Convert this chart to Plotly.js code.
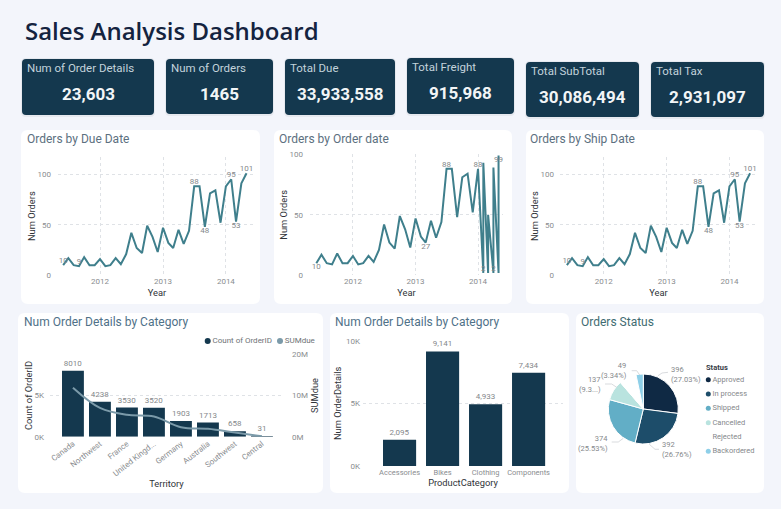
<!DOCTYPE html>
<html><head><meta charset="utf-8"><script src="https://cdn.plot.ly/plotly-3.0.1.min.js"></script>
<style>html,body{margin:0;padding:0;background:#f3f5fb}</style></head>
<body><div id="chart" style="width:781px;height:509px"></div>
<script>
const months=[];
for(let y=2011,m=6;!(y===2014&&m===6);m++){if(m>12){m=1;y++}if(y===2014&&m===6)break;months.push(y+'-'+String(m).padStart(2,'0')+'-01')}
const dueOrders=[10,17,10,9,18,10,10,16,9,10,17,11,21,42,27,22,49,38,23,47,32,27,45,31,44,88,88,48,81,84,52,88,95,53,91,101];
const shipOrders=[10,17,10,9,18,10,10,16,9,10,17,11,21,42,27,22,49,38,23,47,32,27,45,31,44,88,88,48,81,84,52,88,95,53,91,101];
const orderDates=months.slice(0,32).concat(['2014-02-01','2014-02-01','2014-03-01','2014-03-01','2014-04-01','2014-04-01','2014-05-01','2014-05-01']);
const orderOrders=[10,17,10,9,18,10,10,16,9,10,16,11,21,42,27,22,49,38,23,47,32,27,45,31,44,88,88,48,81,84,52,88,2,93,2,50,2,89,2,99];
const dueLabels={0:['10','top center'],3:['9','top center'],25:['88','top center'],27:['48','bottom center'],32:['95','top center'],33:['53','bottom center'],35:['101','top center']};
const orderLabels={0:['10','bottom center'],21:['27','bottom center'],25:['88','top center'],31:['88','top center'],32:['2','top center'],36:['2','top center'],39:['99','bottom center']};
const territories=['Canada','Northwest','France','United Kingd...','Germany','Australia','Southwest','Central'];
const territoryCount=[8010,4238,3530,3520,1903,1713,658,31];
const territoryDue=[11.9e6,7e6,5.3e6,4.9e6,2.3e6,1.9e6,1e6,0.1e6];
const productCats=['Accessories','Bikes','Clothing','Components'];
const productCount=[2095,9141,4933,7434];
const statuses=['Approved','In process','Shipped','Cancelled','Rejected','Backordered'];
const statusCount=[396,392,374,137,117,49];
const statusText=['396<br>(27.03%)','392<br>(26.76%)','374<br>(25.53%)','137<br>(9.3...)','','49<br>(3.34%)'];
const statusColors=['#0f2944','#1d4d6a','#62aec6','#b9e3df','#ffffff','#8ecfe8'];
const kpiNames=['Num of Order Details','Num of Orders','Total Due','Total Freight','Total SubTotal','Total Tax'];
const kpiValues=['23,603','1465','33,933,558','915,968','30,086,494','2,931,097'];
const kpiBoxes=[[22,59,154,115],[166,59,273,114],[285,59,395,115],[407,58,514,114],[526,62,639,117],[651,62,764,117]];
const panels=[[21,130,260,304],[274,130,512,304],[526,130,764,304],[18,313,323,493],[330,313,569,493],[576,313,764,493]];
const panelTitles=['Orders by Due Date','Orders by Order date','Orders by Ship Date','Num Order Details by Category','Num Order Details by Category','Orders Status'];
const titleXY=[[25,139],[277,139],[528,139],[22,322],[333,322],[579,322]];
const titleColors=['#5c7080','#5c7080','#5c7080','#4f7188','#4f7188','#3f6c72'];
const pieLabelPos=[[669,374,'left'],[660,449,'left'],[609.5,443,'right'],[603,384,'right'],null,[629,370,'right']];
const pieLeaders=[[[658,375.7],[662,373],[668,372.3]],[[649.3,444.3],[655,449.3],[659,449.3]],[[623.3,438.3],[618.3,442],[611.7,442]],[[616.7,387.3],[611.7,384],[605,384]],[[639.7,375],[636.7,370.7],[631.7,370.7]]];

const W=781,H=509,FONT='Roboto, sans-serif';
const X=x=>x/W,Y=y=>1-y/H;
const rr=(b,r)=>{const[a,t,c,d]=b;return `M${X(a+r)},${Y(t)}L${X(c-r)},${Y(t)}Q${X(c)},${Y(t)} ${X(c)},${Y(t+r)}L${X(c)},${Y(d-r)}Q${X(c)},${Y(d)} ${X(c-r)},${Y(d)}L${X(a+r)},${Y(d)}Q${X(a)},${Y(d)} ${X(a)},${Y(d-r)}L${X(a)},${Y(t+r)}Q${X(a)},${Y(t)} ${X(a+r)},${Y(t)}Z`};
const shapes=[],annotations=[];
panels.forEach(b=>shapes.push({type:'path',xref:'paper',yref:'paper',path:rr(b,7),fillcolor:'#ffffff',line:{width:0},layer:'below'}));
kpiBoxes.forEach((b,i)=>{
  shapes.push({type:'path',xref:'paper',yref:'paper',path:rr([b[0]-1,b[1]-1,b[2]+1,b[3]+2],5),fillcolor:'#e6e9ef',line:{width:0},layer:'below'});
  shapes.push({type:'path',xref:'paper',yref:'paper',path:rr(b,4),fillcolor:'#14384e',line:{width:0},layer:'below'});
  annotations.push({xref:'paper',yref:'paper',x:X(b[0]+3),y:Y(b[1]+9),xanchor:'left',yanchor:'middle',showarrow:false,text:kpiNames[i],font:{family:FONT,size:11.5,color:'#c3d3dc'}});
  annotations.push({xref:'paper',yref:'paper',x:X((b[0]+b[2])/2),y:Y(b[1]+35),xanchor:'center',yanchor:'middle',showarrow:false,text:'<b>'+kpiValues[i]+'</b>',font:{family:FONT,size:17,color:'#f2f5f7'}});
});
panelTitles.forEach((t,i)=>annotations.push({xref:'paper',yref:'paper',x:X(titleXY[i][0]),y:Y(titleXY[i][1]),xanchor:'left',yanchor:'middle',showarrow:false,text:t,font:{family:FONT,size:12,color:titleColors[i]}}));
statusText.forEach((t,i)=>{const p=pieLabelPos[i];if(p)annotations.push({xref:'paper',yref:'paper',x:X(p[0]),y:Y(p[1]),xanchor:p[2],yanchor:'middle',align:p[2],showarrow:false,text:t,font:{family:FONT,size:7.5,color:'#85888b'}})});
pieLeaders.forEach(l=>shapes.push({type:'path',xref:'paper',yref:'paper',path:l.map((q,i)=>(i?'L':'M')+X(q[0])+','+Y(q[1])).join(''),line:{color:'#cfd2d5',width:0.8}}));

const GRID='#dfe2e6',TICK='#8a8d90',AT='#2f3338',LINE='#3f7f8c',TS=9.3;
const labelsFor=(n,map)=>({text:Array.from({length:n},(_,i)=>map[i]?map[i][0]:''),textposition:Array.from({length:n},(_,i)=>map[i]?map[i][1]:'top center')});
const lineTrace=(x,y,map,xa,ya)=>{const l=labelsFor(y.length,map);return{type:'scatter',mode:'lines+text',x,y,xaxis:xa,yaxis:ya,text:l.text,textposition:l.textposition,textfont:{family:FONT,size:8,color:'#85888b'},cliponaxis:false,showlegend:false,line:{color:LINE,width:2,shape:'linear'},hoverinfo:'x+y'}};
const xDate=(d,r,dom)=>({type:'date',domain:[X(d[0]),X(d[1])],range:r,anchor:dom,tickformat:'%Y',dtick:'M12',tick0:'2012-01-01',ticks:'',showgrid:true,gridcolor:GRID,griddash:'dot',gridwidth:1,zeroline:false,showline:false,tickfont:{family:FONT,size:8,color:TICK},title:{text:'Year',font:{family:FONT,size:TS,color:AT},standoff:4},automargin:false});
const yLin=(d,r,dom,t,vals,so,tso)=>({domain:[Y(d[1]),Y(d[0])],range:r,anchor:dom,tickvals:vals,showgrid:true,gridcolor:GRID,griddash:'dot',gridwidth:1,zeroline:false,showline:false,ticks:'',ticklabelstandoff:tso,tickfont:{family:FONT,size:8,color:TICK},title:{text:t,font:{family:FONT,size:TS,color:AT},standoff:so},automargin:false});

const data=[
 lineTrace(months,dueOrders,dueLabels,'x','y'),
 lineTrace(orderDates,orderOrders,orderLabels,'x2','y2'),
 lineTrace(months,shipOrders,dueLabels,'x3','y3'),
 {type:'bar',name:'Count of OrderID',x:territories,y:territoryCount,width:0.81,xaxis:'x4',yaxis:'y4',marker:{color:'#14384e'},text:territoryCount.map(String),textposition:'outside',textfont:{family:FONT,size:8,color:'#85888b'},cliponaxis:false,showlegend:false},
 {type:'scatter',mode:'lines',name:'SUMdue',x:territories,y:territoryDue,xaxis:'x4',yaxis:'y5',line:{color:'#7b9aa9',width:2,shape:'spline'},showlegend:false},
 {type:'bar',x:productCats,y:productCount,width:0.77,xaxis:'x5',yaxis:'y6',marker:{color:'#14384e'},text:productCount.map(v=>v.toLocaleString('en-US')),textposition:'outside',textfont:{family:FONT,size:8,color:'#85888b'},cliponaxis:false,showlegend:false},
 {type:'pie',labels:statuses,values:statusCount,textinfo:'none',sort:false,direction:'clockwise',rotation:0,marker:{colors:statusColors,line:{color:'#ffffff',width:1}},domain:{x:[X(608.3),X(678.3)],y:[Y(444),Y(374)]},showlegend:false,automargin:false,hoverinfo:'label+value+percent'},
 {type:'scatter',mode:'markers+text',x:statuses.map(()=>0),y:statuses.map((_,i)=>i),xaxis:'x6',yaxis:'y7',text:statuses,textposition:'middle right',textfont:{family:FONT,size:7.5,color:'#85888b'},marker:{size:5,color:statusColors},showlegend:false,cliponaxis:false,hoverinfo:'text'},
 {type:'scatter',mode:'markers+text',x:[0,1],y:[0,0],xaxis:'x7',yaxis:'y8',text:['Count of OrderID','SUMdue'],textposition:'middle right',textfont:{family:FONT,size:8,color:'#6e7276'},marker:{size:6,color:['#14384e','#7b9aa9']},showlegend:false,cliponaxis:false,hoverinfo:'text'}
];
annotations.push({xref:'paper',yref:'paper',x:X(703.5),y:Y(367.7),xanchor:'left',yanchor:'middle',showarrow:false,text:'<b>Status</b>',font:{family:FONT,size:7.5,color:'#3a4048'}});

const layout={
 width:W,height:H,autosize:false,margin:{l:0,r:0,t:0,b:0},paper_bgcolor:'#f3f5fb',plot_bgcolor:'rgba(0,0,0,0)',font:{family:FONT},
 title:{text:'Sales Analysis Dashboard',x:X(25),xanchor:'left',y:Y(32),yanchor:'middle',font:{family:'Open Sans, sans-serif',size:24,color:'#14233f',weight:600}},
 shapes,annotations,
 xaxis:xDate([58,256],['2011-05-02','2014-06-25'],'y'),
 yaxis:yLin([157,275.3],[0,117],'x','Num Orders',[0,50,100],0,6),
 xaxis2:xDate([310,503],['2011-04-25','2014-05-27'],'y2'),
 yaxis2:yLin([154.3,275.3],[0,100],'x2','Num Orders',[0,50,100],0,6),
 xaxis3:xDate([560,757],['2011-04-22','2014-06-10'],'y3'),
 yaxis3:yLin([157,275.3],[0,117],'x3','Num Orders',[0,50,100],0,5),
 xaxis4:{domain:[X(50),X(283)],range:[-0.85,7.78],anchor:'y4',type:'category',showgrid:false,zeroline:false,ticks:'',tickangle:-38,tickfont:{family:FONT,size:8,color:TICK},title:{text:'Territory',font:{family:FONT,size:TS,color:AT},standoff:2}},
 yaxis4:Object.assign(yLin([354.3,436.7],[0,10000],'x4','Count of OrderID',[0,5000,10000],0,5),{ticktext:['0K','5K','']}),
 yaxis5:{domain:[Y(436.7),Y(354.3)],range:[0,20e6],anchor:'x4',overlaying:'y4',side:'right',tickvals:[0,10e6,20e6],ticktext:['0M','10M','20M'],ticklabelstandoff:8,showgrid:false,zeroline:false,tickfont:{family:FONT,size:8,color:TICK},title:{text:'SUMdue',font:{family:FONT,size:TS,color:AT},standoff:4}},
 xaxis5:{domain:[X(363),X(563)],range:[-0.85,3.8],anchor:'y6',type:'category',showgrid:false,zeroline:false,ticks:'',tickfont:{family:FONT,size:7.5,color:TICK},title:{text:'ProductCategory',font:{family:FONT,size:TS,color:AT},standoff:3}},
 yaxis6:Object.assign(yLin([340.7,466],[0,10000],'x5','Num OrderDetails',[0,5000,10000],2,2),{ticktext:['0K','5K','10K']}),
 xaxis6:{domain:[X(708.3),X(760)],range:[0,1],anchor:'y7',visible:false,fixedrange:true},
 yaxis7:{domain:[Y(458.5),Y(372.5)],range:[5.5,-0.5],anchor:'x6',visible:false,fixedrange:true},
 xaxis7:{domain:[X(207.7),X(280)],range:[0,1],anchor:'y8',visible:false,fixedrange:true},
 yaxis8:{domain:[Y(346),Y(336)],range:[-1,1],anchor:'x7',visible:false,fixedrange:true},
 bargap:0.2
};
Plotly.newPlot('chart',data,layout,{displayModeBar:false,responsive:false});
</script></body></html>
